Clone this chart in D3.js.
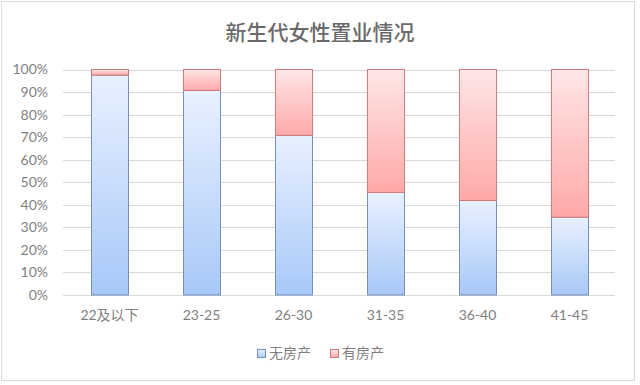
<!DOCTYPE html>
<html>
<head>
<meta charset="utf-8">
<script src="https://cdn.jsdelivr.net/npm/d3@7"></script>
<style>
  body { margin: 0; background: #fff; }
  text { font-family: Lato, "Noto Sans CJK SC", sans-serif; }
</style>
</head>
<body>
<div id="chart"></div>
<script>
var categories = ['22及以下', '23-25', '26-30', '31-35', '36-40', '41-45'];
var noHouse = [97.5, 90.7, 70.8, 45.5, 41.9, 34.5];
var hasHouse = [2.5, 9.3, 29.2, 54.5, 58.1, 65.5];
var seriesNames = ['无房产', '有房产'];
var yTicks = [0, 10, 20, 30, 40, 50, 60, 70, 80, 90, 100];

var W = 640, H = 385;
var svg = d3.select('#chart').append('svg').attr('width', W).attr('height', H);

// frame
svg.append('rect').attr('x', 1.5).attr('y', 1.5).attr('width', 633).attr('height', 379)
  .attr('fill', '#fff').attr('stroke', '#d9d9d9');

var defs = svg.append('defs');
function grad(id, top, bottom) {
  var g = defs.append('linearGradient').attr('id', id)
    .attr('x1', 0).attr('y1', 0).attr('x2', 0).attr('y2', 1);
  g.append('stop').attr('offset', '0%').attr('stop-color', top);
  g.append('stop').attr('offset', '100%').attr('stop-color', bottom);
}
grad('gBlue', '#e9f1ff', '#a8c8f8');
grad('gRed', '#ffe6e6', '#ffa9a9');
var fills = ['url(#gBlue)', 'url(#gRed)'];
var strokes = ['#7390b6', '#d27a7c'];

var x = d3.scaleBand().domain(categories).range([63.5, 615.5]).paddingInner(0.6).paddingOuter(0.3);
var y = d3.scaleLinear().domain([0, 100]).range([295, 69.5]);

// grid
svg.append('g').selectAll('line').data(yTicks).enter().append('line')
  .attr('x1', 63).attr('x2', 615)
  .attr('y1', function(d) { return Math.round(y(d)) + 0.5; })
  .attr('y2', function(d) { return Math.round(y(d)) + 0.5; })
  .attr('stroke', '#d9d9d9').attr('stroke-width', 1);

// y labels
svg.append('g').selectAll('text').data(yTicks).enter().append('text')
  .attr('x', 48).attr('y', function(d) { return y(d); })
  .attr('dy', '0.35em').attr('text-anchor', 'end')
  .attr('font-size', 14).attr('fill', '#7f7f7f')
  .text(function(d) { return d + '%'; });

// stacked data
var rows = categories.map(function(c, i) { return { cat: c, a: noHouse[i], b: hasHouse[i] }; });
var stack = d3.stack().keys(['a', 'b'])(rows);

svg.append('g').selectAll('g').data(stack).enter().append('g')
  .each(function(s, k) {
    d3.select(this).selectAll('rect').data(s).enter().append('rect')
      .attr('x', function(d) { return Math.round(x(d.data.cat)) + 0.5; })
      .attr('width', Math.round(x.bandwidth()))
      .attr('y', function(d) { return y(d[1]); })
      .attr('height', function(d) { return y(d[0]) - y(d[1]); })
      .attr('fill', fills[k])
      .attr('stroke', strokes[k]).attr('stroke-width', 1);
  });

// x labels
svg.append('g').selectAll('text').data(categories).enter().append('text')
  .attr('x', function(d) { return x(d) + x.bandwidth() / 2; })
  .attr('y', 320).attr('text-anchor', 'middle')
  .attr('font-size', 14).attr('fill', '#7f7f7f')
  .text(function(d) { return d; });

// title
svg.append('text').attr('x', 320).attr('y', 40).attr('text-anchor', 'middle')
  .attr('font-size', 21).attr('font-weight', 500).attr('fill', '#6a6a6a')
  .style('font-family', '"Noto Sans CJK SC", sans-serif')
  .text('新生代女性置业情况');

// legend
var legX = [257, 330];
var leg = svg.append('g').selectAll('g').data(seriesNames).enter().append('g')
  .attr('transform', function(d, i) { return 'translate(' + legX[i] + ',349)'; });
leg.append('rect').attr('x', 0.5).attr('y', 0.5).attr('width', 8).attr('height', 8)
  .attr('fill', function(d, i) { return fills[i]; })
  .attr('stroke', function(d, i) { return strokes[i]; });
leg.append('text').attr('x', 12).attr('y', 4.5).attr('dy', '0.35em')
  .attr('font-size', 14).attr('fill', '#7f7f7f')
  .style('font-family', '"Noto Sans CJK SC", sans-serif')
  .text(function(d) { return d; });
</script>
</body>
</html>
